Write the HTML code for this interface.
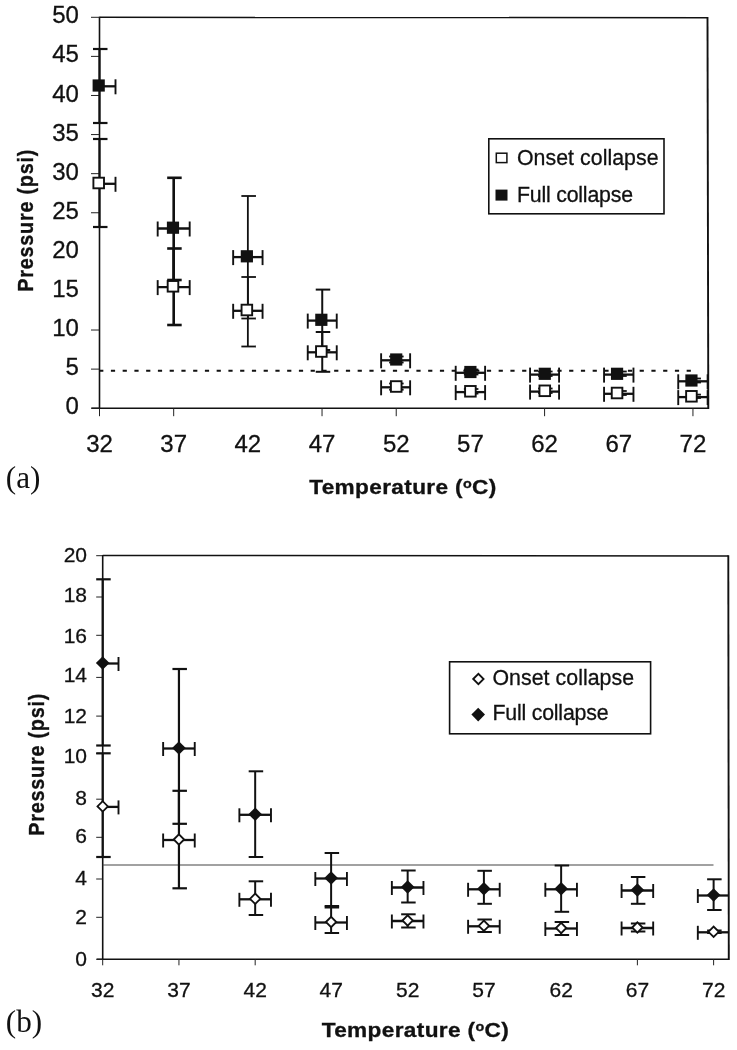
<!DOCTYPE html>
<html lang="en">
<head>
<meta charset="utf-8">
<title>Collapse pressure vs temperature</title>
<style>
html,body{margin:0;padding:0;background:#fff;}
body{width:737px;height:1050px;overflow:hidden;}
svg{display:block;}

</style>
</head>
<body>
<svg width="737" height="1050" viewBox="0 0 737 1050">
<rect x="0" y="0" width="737" height="1050" fill="#ffffff"/>
<line x1="99.50" y1="17.30" x2="707.50" y2="17.70" stroke="#111" stroke-width="1.5" />
<line x1="707.50" y1="17.00" x2="708.30" y2="409.00" stroke="#111" stroke-width="1.9" />
<line x1="99.50" y1="16.70" x2="99.50" y2="408.20" stroke="#111" stroke-width="1.6" />
<line x1="91.50" y1="408.20" x2="708.30" y2="408.20" stroke="#111" stroke-width="1.6" />
<line x1="91.00" y1="17.30" x2="99.50" y2="17.30" stroke="#222" stroke-width="1.0" />
<text transform="translate(78.90,23.40)" font-family='"Liberation Sans", Arial, Helvetica, sans-serif' font-size="24" font-weight="normal" text-anchor="end" fill="#111" stroke="#111" stroke-width="0.3">50</text>
<line x1="91.00" y1="56.39" x2="99.50" y2="56.39" stroke="#222" stroke-width="1.0" />
<text transform="translate(78.90,62.49)" font-family='"Liberation Sans", Arial, Helvetica, sans-serif' font-size="24" font-weight="normal" text-anchor="end" fill="#111" stroke="#111" stroke-width="0.3">45</text>
<line x1="91.00" y1="95.48" x2="99.50" y2="95.48" stroke="#222" stroke-width="1.0" />
<text transform="translate(78.90,101.58)" font-family='"Liberation Sans", Arial, Helvetica, sans-serif' font-size="24" font-weight="normal" text-anchor="end" fill="#111" stroke="#111" stroke-width="0.3">40</text>
<line x1="91.00" y1="134.57" x2="99.50" y2="134.57" stroke="#222" stroke-width="1.0" />
<text transform="translate(78.90,140.67)" font-family='"Liberation Sans", Arial, Helvetica, sans-serif' font-size="24" font-weight="normal" text-anchor="end" fill="#111" stroke="#111" stroke-width="0.3">35</text>
<line x1="91.00" y1="173.66" x2="99.50" y2="173.66" stroke="#222" stroke-width="1.0" />
<text transform="translate(78.90,179.76)" font-family='"Liberation Sans", Arial, Helvetica, sans-serif' font-size="24" font-weight="normal" text-anchor="end" fill="#111" stroke="#111" stroke-width="0.3">30</text>
<line x1="91.00" y1="212.75" x2="99.50" y2="212.75" stroke="#222" stroke-width="1.0" />
<text transform="translate(78.90,218.85)" font-family='"Liberation Sans", Arial, Helvetica, sans-serif' font-size="24" font-weight="normal" text-anchor="end" fill="#111" stroke="#111" stroke-width="0.3">25</text>
<text transform="translate(78.90,257.94)" font-family='"Liberation Sans", Arial, Helvetica, sans-serif' font-size="24" font-weight="normal" text-anchor="end" fill="#111" stroke="#111" stroke-width="0.3">20</text>
<text transform="translate(78.90,297.03)" font-family='"Liberation Sans", Arial, Helvetica, sans-serif' font-size="24" font-weight="normal" text-anchor="end" fill="#111" stroke="#111" stroke-width="0.3">15</text>
<line x1="91.00" y1="330.02" x2="99.50" y2="330.02" stroke="#222" stroke-width="1.0" />
<text transform="translate(78.90,336.12)" font-family='"Liberation Sans", Arial, Helvetica, sans-serif' font-size="24" font-weight="normal" text-anchor="end" fill="#111" stroke="#111" stroke-width="0.3">10</text>
<line x1="91.00" y1="369.11" x2="99.50" y2="369.11" stroke="#222" stroke-width="1.0" />
<text transform="translate(78.90,375.21)" font-family='"Liberation Sans", Arial, Helvetica, sans-serif' font-size="24" font-weight="normal" text-anchor="end" fill="#111" stroke="#111" stroke-width="0.3">5</text>
<line x1="91.00" y1="408.20" x2="99.50" y2="408.20" stroke="#222" stroke-width="1.0" />
<text transform="translate(78.90,414.30)" font-family='"Liberation Sans", Arial, Helvetica, sans-serif' font-size="24" font-weight="normal" text-anchor="end" fill="#111" stroke="#111" stroke-width="0.3">0</text>
<line x1="99.50" y1="408.20" x2="99.50" y2="416.20" stroke="#222" stroke-width="1.0" />
<text transform="translate(99.50,452.00)" font-family='"Liberation Sans", Arial, Helvetica, sans-serif' font-size="24" font-weight="normal" text-anchor="middle" fill="#111" stroke="#111" stroke-width="0.3">32</text>
<line x1="173.68" y1="408.20" x2="173.68" y2="416.20" stroke="#222" stroke-width="1.0" />
<text transform="translate(173.68,452.00)" font-family='"Liberation Sans", Arial, Helvetica, sans-serif' font-size="24" font-weight="normal" text-anchor="middle" fill="#111" stroke="#111" stroke-width="0.3">37</text>
<text transform="translate(247.86,452.00)" font-family='"Liberation Sans", Arial, Helvetica, sans-serif' font-size="24" font-weight="normal" text-anchor="middle" fill="#111" stroke="#111" stroke-width="0.3">42</text>
<line x1="322.04" y1="408.20" x2="322.04" y2="416.20" stroke="#222" stroke-width="1.0" />
<text transform="translate(322.04,452.00)" font-family='"Liberation Sans", Arial, Helvetica, sans-serif' font-size="24" font-weight="normal" text-anchor="middle" fill="#111" stroke="#111" stroke-width="0.3">47</text>
<line x1="396.22" y1="408.20" x2="396.22" y2="416.20" stroke="#222" stroke-width="1.0" />
<text transform="translate(396.22,452.00)" font-family='"Liberation Sans", Arial, Helvetica, sans-serif' font-size="24" font-weight="normal" text-anchor="middle" fill="#111" stroke="#111" stroke-width="0.3">52</text>
<text transform="translate(470.40,452.00)" font-family='"Liberation Sans", Arial, Helvetica, sans-serif' font-size="24" font-weight="normal" text-anchor="middle" fill="#111" stroke="#111" stroke-width="0.3">57</text>
<line x1="544.58" y1="408.20" x2="544.58" y2="416.20" stroke="#222" stroke-width="1.0" />
<text transform="translate(544.58,452.00)" font-family='"Liberation Sans", Arial, Helvetica, sans-serif' font-size="24" font-weight="normal" text-anchor="middle" fill="#111" stroke="#111" stroke-width="0.3">62</text>
<text transform="translate(618.76,452.00)" font-family='"Liberation Sans", Arial, Helvetica, sans-serif' font-size="24" font-weight="normal" text-anchor="middle" fill="#111" stroke="#111" stroke-width="0.3">67</text>
<line x1="692.94" y1="408.20" x2="692.94" y2="416.20" stroke="#222" stroke-width="1.0" />
<text transform="translate(692.94,452.00)" font-family='"Liberation Sans", Arial, Helvetica, sans-serif' font-size="24" font-weight="normal" text-anchor="middle" fill="#111" stroke="#111" stroke-width="0.3">72</text>
<line x1="99.15" y1="370.80" x2="698.00" y2="370.80" stroke="#111" stroke-width="2.0" stroke-dasharray="4.2 7.55"/>
<line x1="99.50" y1="139.00" x2="99.50" y2="227.00" stroke="#111" stroke-width="2.2" />
<line x1="93.00" y1="139.00" x2="107.50" y2="139.00" stroke="#111" stroke-width="2.2" />
<line x1="93.00" y1="227.00" x2="107.50" y2="227.00" stroke="#111" stroke-width="2.2" />
<line x1="99.50" y1="183.80" x2="115.50" y2="183.80" stroke="#111" stroke-width="2.3" />
<line x1="115.50" y1="176.80" x2="115.50" y2="191.80" stroke="#111" stroke-width="1.9" />
<line x1="99.50" y1="49.00" x2="99.50" y2="123.00" stroke="#111" stroke-width="2.2" />
<line x1="93.00" y1="49.00" x2="107.50" y2="49.00" stroke="#111" stroke-width="2.2" />
<line x1="93.00" y1="123.00" x2="107.50" y2="123.00" stroke="#111" stroke-width="2.2" />
<line x1="99.50" y1="86.30" x2="115.50" y2="86.30" stroke="#111" stroke-width="2.3" />
<line x1="115.50" y1="79.30" x2="115.50" y2="94.30" stroke="#111" stroke-width="1.9" />
<line x1="173.68" y1="248.50" x2="173.68" y2="325.00" stroke="#111" stroke-width="2.6" />
<line x1="167.18" y1="248.50" x2="181.68" y2="248.50" stroke="#111" stroke-width="2.6" />
<line x1="167.18" y1="325.00" x2="181.68" y2="325.00" stroke="#111" stroke-width="2.6" />
<line x1="157.68" y1="287.10" x2="189.68" y2="287.10" stroke="#111" stroke-width="2.3" />
<line x1="157.68" y1="280.10" x2="157.68" y2="295.10" stroke="#111" stroke-width="1.9" />
<line x1="189.68" y1="280.10" x2="189.68" y2="295.10" stroke="#111" stroke-width="1.9" />
<line x1="173.68" y1="177.80" x2="173.68" y2="280.00" stroke="#111" stroke-width="2.6" />
<line x1="167.18" y1="177.80" x2="181.68" y2="177.80" stroke="#111" stroke-width="2.6" />
<line x1="167.18" y1="280.00" x2="181.68" y2="280.00" stroke="#111" stroke-width="2.6" />
<line x1="157.68" y1="228.50" x2="189.68" y2="228.50" stroke="#111" stroke-width="2.3" />
<line x1="157.68" y1="221.50" x2="157.68" y2="236.50" stroke="#111" stroke-width="1.9" />
<line x1="189.68" y1="221.50" x2="189.68" y2="236.50" stroke="#111" stroke-width="1.9" />
<line x1="247.86" y1="277.00" x2="247.86" y2="346.50" stroke="#111" stroke-width="1.8" />
<line x1="241.36" y1="277.00" x2="255.86" y2="277.00" stroke="#111" stroke-width="1.8" />
<line x1="241.36" y1="346.50" x2="255.86" y2="346.50" stroke="#111" stroke-width="1.8" />
<line x1="233.16" y1="310.80" x2="262.56" y2="310.80" stroke="#111" stroke-width="2.3" />
<line x1="233.16" y1="303.80" x2="233.16" y2="318.80" stroke="#111" stroke-width="1.9" />
<line x1="262.56" y1="303.80" x2="262.56" y2="318.80" stroke="#111" stroke-width="1.9" />
<line x1="247.86" y1="196.00" x2="247.86" y2="318.50" stroke="#111" stroke-width="1.8" />
<line x1="241.36" y1="196.00" x2="255.86" y2="196.00" stroke="#111" stroke-width="1.8" />
<line x1="241.36" y1="318.50" x2="255.86" y2="318.50" stroke="#111" stroke-width="1.8" />
<line x1="233.16" y1="257.10" x2="262.56" y2="257.10" stroke="#111" stroke-width="2.3" />
<line x1="233.16" y1="250.10" x2="233.16" y2="265.10" stroke="#111" stroke-width="1.9" />
<line x1="262.56" y1="250.10" x2="262.56" y2="265.10" stroke="#111" stroke-width="1.9" />
<line x1="322.24" y1="332.00" x2="322.24" y2="371.80" stroke="#111" stroke-width="2.0" />
<line x1="315.74" y1="332.00" x2="330.24" y2="332.00" stroke="#111" stroke-width="2.0" />
<line x1="315.74" y1="371.80" x2="330.24" y2="371.80" stroke="#111" stroke-width="2.0" />
<line x1="307.74" y1="352.30" x2="336.74" y2="352.30" stroke="#111" stroke-width="2.3" />
<line x1="307.74" y1="345.30" x2="307.74" y2="360.30" stroke="#111" stroke-width="1.9" />
<line x1="336.74" y1="345.30" x2="336.74" y2="360.30" stroke="#111" stroke-width="1.9" />
<line x1="322.24" y1="289.60" x2="322.24" y2="350.00" stroke="#111" stroke-width="2.0" />
<line x1="315.74" y1="289.60" x2="330.24" y2="289.60" stroke="#111" stroke-width="2.0" />
<line x1="315.74" y1="350.00" x2="330.24" y2="350.00" stroke="#111" stroke-width="2.0" />
<line x1="307.74" y1="320.60" x2="336.74" y2="320.60" stroke="#111" stroke-width="2.3" />
<line x1="307.74" y1="313.60" x2="307.74" y2="328.60" stroke="#111" stroke-width="1.9" />
<line x1="336.74" y1="313.60" x2="336.74" y2="328.60" stroke="#111" stroke-width="1.9" />
<line x1="395.62" y1="383.50" x2="395.62" y2="389.70" stroke="#111" stroke-width="1.8" />
<line x1="389.12" y1="383.50" x2="403.62" y2="383.50" stroke="#111" stroke-width="1.8" />
<line x1="389.12" y1="389.70" x2="403.62" y2="389.70" stroke="#111" stroke-width="1.8" />
<line x1="381.12" y1="387.30" x2="410.12" y2="387.30" stroke="#111" stroke-width="2.3" />
<line x1="381.12" y1="380.30" x2="381.12" y2="395.30" stroke="#111" stroke-width="1.9" />
<line x1="410.12" y1="380.30" x2="410.12" y2="395.30" stroke="#111" stroke-width="1.9" />
<line x1="395.62" y1="356.50" x2="395.62" y2="362.50" stroke="#111" stroke-width="1.8" />
<line x1="389.12" y1="356.50" x2="403.62" y2="356.50" stroke="#111" stroke-width="1.8" />
<line x1="389.12" y1="362.50" x2="403.62" y2="362.50" stroke="#111" stroke-width="1.8" />
<line x1="381.12" y1="360.30" x2="410.12" y2="360.30" stroke="#111" stroke-width="2.3" />
<line x1="381.12" y1="353.30" x2="381.12" y2="368.30" stroke="#111" stroke-width="1.9" />
<line x1="410.12" y1="353.30" x2="410.12" y2="368.30" stroke="#111" stroke-width="1.9" />
<line x1="470.40" y1="389.00" x2="470.40" y2="393.60" stroke="#111" stroke-width="1.8" />
<line x1="463.90" y1="389.00" x2="478.40" y2="389.00" stroke="#111" stroke-width="1.8" />
<line x1="463.90" y1="393.60" x2="478.40" y2="393.60" stroke="#111" stroke-width="1.8" />
<line x1="455.70" y1="392.10" x2="485.10" y2="392.10" stroke="#111" stroke-width="2.3" />
<line x1="455.70" y1="385.10" x2="455.70" y2="400.10" stroke="#111" stroke-width="1.9" />
<line x1="485.10" y1="385.10" x2="485.10" y2="400.10" stroke="#111" stroke-width="1.9" />
<line x1="470.40" y1="369.50" x2="470.40" y2="374.50" stroke="#111" stroke-width="1.8" />
<line x1="463.90" y1="369.50" x2="478.40" y2="369.50" stroke="#111" stroke-width="1.8" />
<line x1="463.90" y1="374.50" x2="478.40" y2="374.50" stroke="#111" stroke-width="1.8" />
<line x1="455.70" y1="372.80" x2="485.10" y2="372.80" stroke="#111" stroke-width="2.3" />
<line x1="455.70" y1="365.80" x2="455.70" y2="380.80" stroke="#111" stroke-width="1.9" />
<line x1="485.10" y1="365.80" x2="485.10" y2="380.80" stroke="#111" stroke-width="1.9" />
<line x1="544.58" y1="388.50" x2="544.58" y2="393.00" stroke="#111" stroke-width="1.8" />
<line x1="538.08" y1="388.50" x2="552.58" y2="388.50" stroke="#111" stroke-width="1.8" />
<line x1="538.08" y1="393.00" x2="552.58" y2="393.00" stroke="#111" stroke-width="1.8" />
<line x1="530.08" y1="391.60" x2="559.08" y2="391.60" stroke="#111" stroke-width="2.3" />
<line x1="530.08" y1="384.60" x2="530.08" y2="399.60" stroke="#111" stroke-width="1.9" />
<line x1="559.08" y1="384.60" x2="559.08" y2="399.60" stroke="#111" stroke-width="1.9" />
<line x1="544.58" y1="371.50" x2="544.58" y2="376.00" stroke="#111" stroke-width="1.8" />
<line x1="538.08" y1="371.50" x2="552.58" y2="371.50" stroke="#111" stroke-width="1.8" />
<line x1="538.08" y1="376.00" x2="552.58" y2="376.00" stroke="#111" stroke-width="1.8" />
<line x1="530.08" y1="374.60" x2="559.08" y2="374.60" stroke="#111" stroke-width="2.3" />
<line x1="530.08" y1="367.60" x2="530.08" y2="382.60" stroke="#111" stroke-width="1.9" />
<line x1="559.08" y1="367.60" x2="559.08" y2="382.60" stroke="#111" stroke-width="1.9" />
<line x1="618.76" y1="391.00" x2="618.76" y2="395.00" stroke="#111" stroke-width="1.8" />
<line x1="612.26" y1="391.00" x2="626.76" y2="391.00" stroke="#111" stroke-width="1.8" />
<line x1="612.26" y1="395.00" x2="626.76" y2="395.00" stroke="#111" stroke-width="1.8" />
<line x1="604.06" y1="393.80" x2="633.46" y2="393.80" stroke="#111" stroke-width="2.3" />
<line x1="604.06" y1="386.80" x2="604.06" y2="401.80" stroke="#111" stroke-width="1.9" />
<line x1="633.46" y1="386.80" x2="633.46" y2="401.80" stroke="#111" stroke-width="1.9" />
<line x1="618.76" y1="371.50" x2="618.76" y2="376.00" stroke="#111" stroke-width="1.8" />
<line x1="612.26" y1="371.50" x2="626.76" y2="371.50" stroke="#111" stroke-width="1.8" />
<line x1="612.26" y1="376.00" x2="626.76" y2="376.00" stroke="#111" stroke-width="1.8" />
<line x1="604.06" y1="374.60" x2="633.46" y2="374.60" stroke="#111" stroke-width="2.3" />
<line x1="604.06" y1="367.60" x2="604.06" y2="382.60" stroke="#111" stroke-width="1.9" />
<line x1="633.46" y1="367.60" x2="633.46" y2="382.60" stroke="#111" stroke-width="1.9" />
<line x1="692.94" y1="394.60" x2="692.94" y2="398.00" stroke="#111" stroke-width="1.8" />
<line x1="686.44" y1="394.60" x2="700.94" y2="394.60" stroke="#111" stroke-width="1.8" />
<line x1="686.44" y1="398.00" x2="700.94" y2="398.00" stroke="#111" stroke-width="1.8" />
<line x1="678.24" y1="397.10" x2="707.64" y2="397.10" stroke="#111" stroke-width="2.3" />
<line x1="678.24" y1="390.10" x2="678.24" y2="405.10" stroke="#111" stroke-width="1.9" />
<line x1="707.64" y1="390.10" x2="707.64" y2="405.10" stroke="#111" stroke-width="1.9" />
<line x1="692.94" y1="378.50" x2="692.94" y2="382.50" stroke="#111" stroke-width="1.8" />
<line x1="686.44" y1="378.50" x2="700.94" y2="378.50" stroke="#111" stroke-width="1.8" />
<line x1="686.44" y1="382.50" x2="700.94" y2="382.50" stroke="#111" stroke-width="1.8" />
<line x1="678.24" y1="381.30" x2="707.64" y2="381.30" stroke="#111" stroke-width="2.3" />
<line x1="678.24" y1="374.30" x2="678.24" y2="389.30" stroke="#111" stroke-width="1.9" />
<line x1="707.64" y1="374.30" x2="707.64" y2="389.30" stroke="#111" stroke-width="1.9" />
<rect x="93.40" y="177.70" width="10.6" height="10.6" fill="#fff" stroke="#111" stroke-width="1.9"/>
<rect x="92.60" y="79.40" width="12.2" height="12.2" fill="#111"/>
<rect x="167.68" y="281.00" width="10.6" height="10.6" fill="#fff" stroke="#111" stroke-width="1.9"/>
<rect x="166.88" y="221.60" width="12.2" height="12.2" fill="#111"/>
<rect x="241.56" y="304.70" width="10.6" height="10.6" fill="#fff" stroke="#111" stroke-width="1.9"/>
<rect x="240.76" y="250.20" width="12.2" height="12.2" fill="#111"/>
<rect x="316.04" y="346.20" width="10.6" height="10.6" fill="#fff" stroke="#111" stroke-width="1.9"/>
<rect x="315.24" y="313.70" width="12.2" height="12.2" fill="#111"/>
<rect x="390.92" y="381.20" width="10.6" height="10.6" fill="#fff" stroke="#111" stroke-width="1.9"/>
<rect x="390.12" y="353.40" width="12.2" height="12.2" fill="#111"/>
<rect x="465.10" y="386.00" width="10.6" height="10.6" fill="#fff" stroke="#111" stroke-width="1.9"/>
<rect x="464.30" y="365.90" width="12.2" height="12.2" fill="#111"/>
<rect x="539.48" y="385.50" width="10.6" height="10.6" fill="#fff" stroke="#111" stroke-width="1.9"/>
<rect x="538.68" y="367.70" width="12.2" height="12.2" fill="#111"/>
<rect x="611.76" y="387.70" width="10.6" height="10.6" fill="#fff" stroke="#111" stroke-width="1.9"/>
<rect x="610.96" y="367.70" width="12.2" height="12.2" fill="#111"/>
<rect x="686.14" y="391.00" width="10.6" height="10.6" fill="#fff" stroke="#111" stroke-width="1.9"/>
<rect x="685.34" y="374.40" width="12.2" height="12.2" fill="#111"/>
<rect x="488.8" y="138.8" width="175.2" height="75" fill="#fff" stroke="#111" stroke-width="1.6"/>
<rect x="496.3" y="153.2" width="10.6" height="9.4" fill="#fff" stroke="#111" stroke-width="1.5"/>
<rect x="495.5" y="189.6" width="12" height="11" fill="#111"/>
<text transform="translate(517.00,165.00)" font-family='"Liberation Sans", Arial, Helvetica, sans-serif' font-size="21.3" font-weight="normal" text-anchor="start" fill="#111" stroke="#111" stroke-width="0.3" letter-spacing="0.05">Onset collapse</text>
<text transform="translate(517.00,202.00)" font-family='"Liberation Sans", Arial, Helvetica, sans-serif' font-size="21.3" font-weight="normal" text-anchor="start" fill="#111" stroke="#111" stroke-width="0.3" letter-spacing="-0.2">Full collapse</text>
<text transform="translate(33.20,220.30) rotate(-90) scale(1.0,1.12)" font-family='"Liberation Sans", Arial, Helvetica, sans-serif' font-size="19.8" font-weight="bold" text-anchor="middle" fill="#111" stroke="#111" stroke-width="0.3" letter-spacing="0.78">Pressure (psi)</text>
<text id="xta" transform="translate(402.9,493.7) scale(1.15,1)" font-family='"Liberation Sans", Arial, Helvetica, sans-serif' font-size="19.7" font-weight="bold" text-anchor="middle" fill="#111" stroke="#111" stroke-width="0.3" letter-spacing="0.3">Temperature (<tspan font-size="12.5" dy="-6">o</tspan><tspan dy="6">C)</tspan></text>
<text transform="translate(5.80,488.00)" font-family='"Liberation Serif", "Times New Roman", serif' font-size="31.2" font-weight="normal" text-anchor="start" fill="#111" stroke="#111" stroke-width="0">(a)</text>
<line x1="102.70" y1="555.50" x2="728.30" y2="555.90" stroke="#111" stroke-width="1.5" />
<line x1="728.30" y1="555.20" x2="728.80" y2="960.10" stroke="#111" stroke-width="1.9" />
<line x1="102.70" y1="554.90" x2="102.70" y2="959.30" stroke="#111" stroke-width="1.6" />
<line x1="96.70" y1="959.30" x2="728.80" y2="959.30" stroke="#111" stroke-width="1.6" />
<line x1="96.20" y1="555.70" x2="102.70" y2="555.70" stroke="#222" stroke-width="1.0" />
<text transform="translate(87.00,562.10)" font-family='"Liberation Sans", Arial, Helvetica, sans-serif' font-size="21" font-weight="normal" text-anchor="end" fill="#111" stroke="#111" stroke-width="0.3">20</text>
<line x1="96.20" y1="597.00" x2="102.70" y2="597.00" stroke="#222" stroke-width="1.0" />
<text transform="translate(87.00,602.40)" font-family='"Liberation Sans", Arial, Helvetica, sans-serif' font-size="21" font-weight="normal" text-anchor="end" fill="#111" stroke="#111" stroke-width="0.3">18</text>
<line x1="96.20" y1="635.30" x2="102.70" y2="635.30" stroke="#222" stroke-width="1.0" />
<text transform="translate(87.00,643.10)" font-family='"Liberation Sans", Arial, Helvetica, sans-serif' font-size="21" font-weight="normal" text-anchor="end" fill="#111" stroke="#111" stroke-width="0.3">16</text>
<line x1="96.20" y1="677.40" x2="102.70" y2="677.40" stroke="#222" stroke-width="1.0" />
<text transform="translate(87.00,682.20)" font-family='"Liberation Sans", Arial, Helvetica, sans-serif' font-size="21" font-weight="normal" text-anchor="end" fill="#111" stroke="#111" stroke-width="0.3">14</text>
<line x1="96.20" y1="716.10" x2="102.70" y2="716.10" stroke="#222" stroke-width="1.0" />
<text transform="translate(87.00,722.50)" font-family='"Liberation Sans", Arial, Helvetica, sans-serif' font-size="21" font-weight="normal" text-anchor="end" fill="#111" stroke="#111" stroke-width="0.3">12</text>
<line x1="96.20" y1="753.60" x2="102.70" y2="753.60" stroke="#222" stroke-width="1.0" />
<text transform="translate(87.00,762.90)" font-family='"Liberation Sans", Arial, Helvetica, sans-serif' font-size="21" font-weight="normal" text-anchor="end" fill="#111" stroke="#111" stroke-width="0.3">10</text>
<line x1="96.20" y1="799.20" x2="102.70" y2="799.20" stroke="#222" stroke-width="1.0" />
<text transform="translate(87.00,804.60)" font-family='"Liberation Sans", Arial, Helvetica, sans-serif' font-size="21" font-weight="normal" text-anchor="end" fill="#111" stroke="#111" stroke-width="0.3">8</text>
<line x1="96.20" y1="837.30" x2="102.70" y2="837.30" stroke="#222" stroke-width="1.0" />
<text transform="translate(87.00,843.30)" font-family='"Liberation Sans", Arial, Helvetica, sans-serif' font-size="21" font-weight="normal" text-anchor="end" fill="#111" stroke="#111" stroke-width="0.3">6</text>
<line x1="96.20" y1="879.00" x2="102.70" y2="879.00" stroke="#222" stroke-width="1.0" />
<text transform="translate(87.00,885.00)" font-family='"Liberation Sans", Arial, Helvetica, sans-serif' font-size="21" font-weight="normal" text-anchor="end" fill="#111" stroke="#111" stroke-width="0.3">4</text>
<line x1="96.20" y1="917.30" x2="102.70" y2="917.30" stroke="#222" stroke-width="1.0" />
<text transform="translate(87.00,924.40)" font-family='"Liberation Sans", Arial, Helvetica, sans-serif' font-size="21" font-weight="normal" text-anchor="end" fill="#111" stroke="#111" stroke-width="0.3">2</text>
<line x1="96.20" y1="959.30" x2="102.70" y2="959.30" stroke="#222" stroke-width="1.0" />
<text transform="translate(87.00,965.60)" font-family='"Liberation Sans", Arial, Helvetica, sans-serif' font-size="21" font-weight="normal" text-anchor="end" fill="#111" stroke="#111" stroke-width="0.3">0</text>
<line x1="102.70" y1="959.30" x2="102.70" y2="965.30" stroke="#222" stroke-width="1.0" />
<text transform="translate(102.70,996.60)" font-family='"Liberation Sans", Arial, Helvetica, sans-serif' font-size="21" font-weight="normal" text-anchor="middle" fill="#111" stroke="#111" stroke-width="0.3">32</text>
<line x1="178.94" y1="959.30" x2="178.94" y2="965.30" stroke="#222" stroke-width="1.0" />
<text transform="translate(178.94,996.60)" font-family='"Liberation Sans", Arial, Helvetica, sans-serif' font-size="21" font-weight="normal" text-anchor="middle" fill="#111" stroke="#111" stroke-width="0.3">37</text>
<line x1="255.18" y1="959.30" x2="255.18" y2="965.30" stroke="#222" stroke-width="1.0" />
<text transform="translate(255.18,996.60)" font-family='"Liberation Sans", Arial, Helvetica, sans-serif' font-size="21" font-weight="normal" text-anchor="middle" fill="#111" stroke="#111" stroke-width="0.3">42</text>
<text transform="translate(331.12,996.60)" font-family='"Liberation Sans", Arial, Helvetica, sans-serif' font-size="21" font-weight="normal" text-anchor="middle" fill="#111" stroke="#111" stroke-width="0.3">47</text>
<text transform="translate(407.66,996.60)" font-family='"Liberation Sans", Arial, Helvetica, sans-serif' font-size="21" font-weight="normal" text-anchor="middle" fill="#111" stroke="#111" stroke-width="0.3">52</text>
<text transform="translate(483.90,996.60)" font-family='"Liberation Sans", Arial, Helvetica, sans-serif' font-size="21" font-weight="normal" text-anchor="middle" fill="#111" stroke="#111" stroke-width="0.3">57</text>
<text transform="translate(561.14,996.60)" font-family='"Liberation Sans", Arial, Helvetica, sans-serif' font-size="21" font-weight="normal" text-anchor="middle" fill="#111" stroke="#111" stroke-width="0.3">62</text>
<line x1="637.38" y1="959.30" x2="637.38" y2="965.30" stroke="#222" stroke-width="1.0" />
<text transform="translate(637.38,996.60)" font-family='"Liberation Sans", Arial, Helvetica, sans-serif' font-size="21" font-weight="normal" text-anchor="middle" fill="#111" stroke="#111" stroke-width="0.3">67</text>
<line x1="713.62" y1="959.30" x2="713.62" y2="965.30" stroke="#222" stroke-width="1.0" />
<text transform="translate(713.62,996.60)" font-family='"Liberation Sans", Arial, Helvetica, sans-serif' font-size="21" font-weight="normal" text-anchor="middle" fill="#111" stroke="#111" stroke-width="0.3">72</text>
<line x1="102.70" y1="865.00" x2="713.50" y2="865.00" stroke="#444" stroke-width="1.2" />
<line x1="102.70" y1="753.30" x2="102.70" y2="857.00" stroke="#111" stroke-width="2.2" />
<line x1="96.20" y1="753.30" x2="110.70" y2="753.30" stroke="#111" stroke-width="2.2" />
<line x1="96.20" y1="857.00" x2="110.70" y2="857.00" stroke="#111" stroke-width="2.2" />
<line x1="102.70" y1="806.90" x2="118.50" y2="806.90" stroke="#111" stroke-width="2.3" />
<line x1="118.50" y1="800.40" x2="118.50" y2="814.40" stroke="#111" stroke-width="1.9" />
<line x1="102.70" y1="579.30" x2="102.70" y2="745.50" stroke="#111" stroke-width="2.2" />
<line x1="96.20" y1="579.30" x2="110.70" y2="579.30" stroke="#111" stroke-width="2.2" />
<line x1="96.20" y1="745.50" x2="110.70" y2="745.50" stroke="#111" stroke-width="2.2" />
<line x1="102.70" y1="663.50" x2="118.50" y2="663.50" stroke="#111" stroke-width="2.3" />
<line x1="118.50" y1="657.00" x2="118.50" y2="671.00" stroke="#111" stroke-width="1.9" />
<line x1="178.94" y1="790.80" x2="178.94" y2="888.30" stroke="#111" stroke-width="2.2" />
<line x1="172.44" y1="790.80" x2="186.94" y2="790.80" stroke="#111" stroke-width="2.2" />
<line x1="172.44" y1="888.30" x2="186.94" y2="888.30" stroke="#111" stroke-width="2.2" />
<line x1="163.14" y1="840.00" x2="194.74" y2="840.00" stroke="#111" stroke-width="2.3" />
<line x1="163.14" y1="833.50" x2="163.14" y2="847.50" stroke="#111" stroke-width="1.9" />
<line x1="194.74" y1="833.50" x2="194.74" y2="847.50" stroke="#111" stroke-width="1.9" />
<line x1="178.94" y1="669.00" x2="178.94" y2="823.80" stroke="#111" stroke-width="2.2" />
<line x1="172.44" y1="669.00" x2="186.94" y2="669.00" stroke="#111" stroke-width="2.2" />
<line x1="172.44" y1="823.80" x2="186.94" y2="823.80" stroke="#111" stroke-width="2.2" />
<line x1="163.14" y1="748.50" x2="194.74" y2="748.50" stroke="#111" stroke-width="2.3" />
<line x1="163.14" y1="742.00" x2="163.14" y2="756.00" stroke="#111" stroke-width="1.9" />
<line x1="194.74" y1="742.00" x2="194.74" y2="756.00" stroke="#111" stroke-width="1.9" />
<line x1="255.18" y1="881.30" x2="255.18" y2="915.00" stroke="#111" stroke-width="2.0" />
<line x1="248.68" y1="881.30" x2="263.18" y2="881.30" stroke="#111" stroke-width="2.0" />
<line x1="248.68" y1="915.00" x2="263.18" y2="915.00" stroke="#111" stroke-width="2.0" />
<line x1="239.38" y1="899.30" x2="270.98" y2="899.30" stroke="#111" stroke-width="2.3" />
<line x1="239.38" y1="892.80" x2="239.38" y2="906.80" stroke="#111" stroke-width="1.9" />
<line x1="270.98" y1="892.80" x2="270.98" y2="906.80" stroke="#111" stroke-width="1.9" />
<line x1="255.18" y1="771.30" x2="255.18" y2="857.00" stroke="#111" stroke-width="2.0" />
<line x1="248.68" y1="771.30" x2="263.18" y2="771.30" stroke="#111" stroke-width="2.0" />
<line x1="248.68" y1="857.00" x2="263.18" y2="857.00" stroke="#111" stroke-width="2.0" />
<line x1="239.38" y1="814.80" x2="270.98" y2="814.80" stroke="#111" stroke-width="2.3" />
<line x1="239.38" y1="808.30" x2="239.38" y2="822.30" stroke="#111" stroke-width="1.9" />
<line x1="270.98" y1="808.30" x2="270.98" y2="822.30" stroke="#111" stroke-width="1.9" />
<line x1="331.12" y1="907.50" x2="331.12" y2="933.00" stroke="#111" stroke-width="2.0" />
<line x1="324.62" y1="907.50" x2="339.12" y2="907.50" stroke="#111" stroke-width="2.0" />
<line x1="324.62" y1="933.00" x2="339.12" y2="933.00" stroke="#111" stroke-width="2.0" />
<line x1="315.32" y1="922.50" x2="346.92" y2="922.50" stroke="#111" stroke-width="2.3" />
<line x1="315.32" y1="916.00" x2="315.32" y2="930.00" stroke="#111" stroke-width="1.9" />
<line x1="346.92" y1="916.00" x2="346.92" y2="930.00" stroke="#111" stroke-width="1.9" />
<line x1="331.12" y1="853.00" x2="331.12" y2="906.00" stroke="#111" stroke-width="2.0" />
<line x1="324.62" y1="853.00" x2="339.12" y2="853.00" stroke="#111" stroke-width="2.0" />
<line x1="324.62" y1="906.00" x2="339.12" y2="906.00" stroke="#111" stroke-width="2.0" />
<line x1="315.32" y1="878.50" x2="346.92" y2="878.50" stroke="#111" stroke-width="2.3" />
<line x1="315.32" y1="872.00" x2="315.32" y2="886.00" stroke="#111" stroke-width="1.9" />
<line x1="346.92" y1="872.00" x2="346.92" y2="886.00" stroke="#111" stroke-width="1.9" />
<line x1="407.66" y1="914.30" x2="407.66" y2="927.50" stroke="#111" stroke-width="2.0" />
<line x1="401.16" y1="914.30" x2="415.66" y2="914.30" stroke="#111" stroke-width="2.0" />
<line x1="401.16" y1="927.50" x2="415.66" y2="927.50" stroke="#111" stroke-width="2.0" />
<line x1="391.86" y1="921.00" x2="423.46" y2="921.00" stroke="#111" stroke-width="2.3" />
<line x1="391.86" y1="914.50" x2="391.86" y2="928.50" stroke="#111" stroke-width="1.9" />
<line x1="423.46" y1="914.50" x2="423.46" y2="928.50" stroke="#111" stroke-width="1.9" />
<line x1="407.66" y1="870.50" x2="407.66" y2="902.50" stroke="#111" stroke-width="2.0" />
<line x1="401.16" y1="870.50" x2="415.66" y2="870.50" stroke="#111" stroke-width="2.0" />
<line x1="401.16" y1="902.50" x2="415.66" y2="902.50" stroke="#111" stroke-width="2.0" />
<line x1="391.86" y1="887.50" x2="423.46" y2="887.50" stroke="#111" stroke-width="2.3" />
<line x1="391.86" y1="881.00" x2="391.86" y2="895.00" stroke="#111" stroke-width="1.9" />
<line x1="423.46" y1="881.00" x2="423.46" y2="895.00" stroke="#111" stroke-width="1.9" />
<line x1="483.90" y1="919.50" x2="483.90" y2="932.00" stroke="#111" stroke-width="2.0" />
<line x1="477.40" y1="919.50" x2="491.90" y2="919.50" stroke="#111" stroke-width="2.0" />
<line x1="477.40" y1="932.00" x2="491.90" y2="932.00" stroke="#111" stroke-width="2.0" />
<line x1="468.10" y1="926.30" x2="499.70" y2="926.30" stroke="#111" stroke-width="2.3" />
<line x1="468.10" y1="919.80" x2="468.10" y2="933.80" stroke="#111" stroke-width="1.9" />
<line x1="499.70" y1="919.80" x2="499.70" y2="933.80" stroke="#111" stroke-width="1.9" />
<line x1="483.90" y1="870.80" x2="483.90" y2="903.80" stroke="#111" stroke-width="2.0" />
<line x1="477.40" y1="870.80" x2="491.90" y2="870.80" stroke="#111" stroke-width="2.0" />
<line x1="477.40" y1="903.80" x2="491.90" y2="903.80" stroke="#111" stroke-width="2.0" />
<line x1="468.10" y1="889.30" x2="499.70" y2="889.30" stroke="#111" stroke-width="2.3" />
<line x1="468.10" y1="882.80" x2="468.10" y2="896.80" stroke="#111" stroke-width="1.9" />
<line x1="499.70" y1="882.80" x2="499.70" y2="896.80" stroke="#111" stroke-width="1.9" />
<line x1="561.14" y1="922.00" x2="561.14" y2="935.00" stroke="#111" stroke-width="2.0" />
<line x1="554.64" y1="922.00" x2="569.14" y2="922.00" stroke="#111" stroke-width="2.0" />
<line x1="554.64" y1="935.00" x2="569.14" y2="935.00" stroke="#111" stroke-width="2.0" />
<line x1="545.34" y1="928.50" x2="576.94" y2="928.50" stroke="#111" stroke-width="2.3" />
<line x1="545.34" y1="922.00" x2="545.34" y2="936.00" stroke="#111" stroke-width="1.9" />
<line x1="576.94" y1="922.00" x2="576.94" y2="936.00" stroke="#111" stroke-width="1.9" />
<line x1="561.14" y1="865.50" x2="561.14" y2="911.80" stroke="#111" stroke-width="2.0" />
<line x1="554.64" y1="865.50" x2="569.14" y2="865.50" stroke="#111" stroke-width="2.0" />
<line x1="554.64" y1="911.80" x2="569.14" y2="911.80" stroke="#111" stroke-width="2.0" />
<line x1="545.34" y1="889.30" x2="576.94" y2="889.30" stroke="#111" stroke-width="2.3" />
<line x1="545.34" y1="882.80" x2="545.34" y2="896.80" stroke="#111" stroke-width="1.9" />
<line x1="576.94" y1="882.80" x2="576.94" y2="896.80" stroke="#111" stroke-width="1.9" />
<line x1="637.38" y1="923.50" x2="637.38" y2="931.50" stroke="#111" stroke-width="2.0" />
<line x1="630.88" y1="923.50" x2="645.38" y2="923.50" stroke="#111" stroke-width="2.0" />
<line x1="630.88" y1="931.50" x2="645.38" y2="931.50" stroke="#111" stroke-width="2.0" />
<line x1="621.58" y1="928.00" x2="653.18" y2="928.00" stroke="#111" stroke-width="2.3" />
<line x1="621.58" y1="921.50" x2="621.58" y2="935.50" stroke="#111" stroke-width="1.9" />
<line x1="653.18" y1="921.50" x2="653.18" y2="935.50" stroke="#111" stroke-width="1.9" />
<line x1="637.38" y1="877.00" x2="637.38" y2="903.80" stroke="#111" stroke-width="2.0" />
<line x1="630.88" y1="877.00" x2="645.38" y2="877.00" stroke="#111" stroke-width="2.0" />
<line x1="630.88" y1="903.80" x2="645.38" y2="903.80" stroke="#111" stroke-width="2.0" />
<line x1="621.58" y1="890.50" x2="653.18" y2="890.50" stroke="#111" stroke-width="2.3" />
<line x1="621.58" y1="884.00" x2="621.58" y2="898.00" stroke="#111" stroke-width="1.9" />
<line x1="653.18" y1="884.00" x2="653.18" y2="898.00" stroke="#111" stroke-width="1.9" />
<line x1="713.62" y1="930.50" x2="713.62" y2="933.00" stroke="#111" stroke-width="2.0" />
<line x1="707.12" y1="930.50" x2="721.62" y2="930.50" stroke="#111" stroke-width="2.0" />
<line x1="707.12" y1="933.00" x2="721.62" y2="933.00" stroke="#111" stroke-width="2.0" />
<line x1="697.82" y1="932.30" x2="728.80" y2="932.30" stroke="#111" stroke-width="2.3" />
<line x1="697.82" y1="925.80" x2="697.82" y2="939.80" stroke="#111" stroke-width="1.9" />
<line x1="713.62" y1="879.30" x2="713.62" y2="910.00" stroke="#111" stroke-width="2.0" />
<line x1="707.12" y1="879.30" x2="721.62" y2="879.30" stroke="#111" stroke-width="2.0" />
<line x1="707.12" y1="910.00" x2="721.62" y2="910.00" stroke="#111" stroke-width="2.0" />
<line x1="697.82" y1="895.50" x2="728.80" y2="895.50" stroke="#111" stroke-width="2.3" />
<line x1="697.82" y1="889.00" x2="697.82" y2="903.00" stroke="#111" stroke-width="1.9" />
<polygon points="97.50,806.40 102.70,801.20 107.90,806.40 102.70,811.60" fill="#fff" stroke="#111" stroke-width="1.8"/>
<polygon points="95.90,663.00 102.70,656.20 109.50,663.00 102.70,669.80" fill="#111"/>
<polygon points="173.74,839.50 178.94,834.30 184.14,839.50 178.94,844.70" fill="#fff" stroke="#111" stroke-width="1.8"/>
<polygon points="172.14,748.00 178.94,741.20 185.74,748.00 178.94,754.80" fill="#111"/>
<polygon points="249.98,898.80 255.18,893.60 260.38,898.80 255.18,904.00" fill="#fff" stroke="#111" stroke-width="1.8"/>
<polygon points="248.38,814.30 255.18,807.50 261.98,814.30 255.18,821.10" fill="#111"/>
<polygon points="325.92,922.00 331.12,916.80 336.32,922.00 331.12,927.20" fill="#fff" stroke="#111" stroke-width="1.8"/>
<polygon points="324.32,878.00 331.12,871.20 337.92,878.00 331.12,884.80" fill="#111"/>
<polygon points="402.46,920.50 407.66,915.30 412.86,920.50 407.66,925.70" fill="#fff" stroke="#111" stroke-width="1.8"/>
<polygon points="400.86,887.00 407.66,880.20 414.46,887.00 407.66,893.80" fill="#111"/>
<polygon points="478.70,925.80 483.90,920.60 489.10,925.80 483.90,931.00" fill="#fff" stroke="#111" stroke-width="1.8"/>
<polygon points="477.10,888.80 483.90,882.00 490.70,888.80 483.90,895.60" fill="#111"/>
<polygon points="555.94,928.00 561.14,922.80 566.34,928.00 561.14,933.20" fill="#fff" stroke="#111" stroke-width="1.8"/>
<polygon points="554.34,888.80 561.14,882.00 567.94,888.80 561.14,895.60" fill="#111"/>
<polygon points="632.18,927.50 637.38,922.30 642.58,927.50 637.38,932.70" fill="#fff" stroke="#111" stroke-width="1.8"/>
<polygon points="630.58,890.00 637.38,883.20 644.18,890.00 637.38,896.80" fill="#111"/>
<polygon points="708.42,931.80 713.62,926.60 718.82,931.80 713.62,937.00" fill="#fff" stroke="#111" stroke-width="1.8"/>
<polygon points="706.82,895.00 713.62,888.20 720.42,895.00 713.62,901.80" fill="#111"/>
<rect x="449.6" y="661.8" width="201" height="72" fill="#fff" stroke="#111" stroke-width="1.6"/>
<polygon points="473.20,679.00 478.40,673.80 483.60,679.00 478.40,684.20" fill="#fff" stroke="#111" stroke-width="1.8"/>
<polygon points="471.40,714.60 478.20,707.80 485.00,714.60 478.20,721.40" fill="#111"/>
<text transform="translate(492.50,685.00)" font-family='"Liberation Sans", Arial, Helvetica, sans-serif' font-size="21.3" font-weight="normal" text-anchor="start" fill="#111" stroke="#111" stroke-width="0.3" letter-spacing="0.05">Onset collapse</text>
<text transform="translate(492.50,720.00)" font-family='"Liberation Sans", Arial, Helvetica, sans-serif' font-size="21.3" font-weight="normal" text-anchor="start" fill="#111" stroke="#111" stroke-width="0.3" letter-spacing="-0.2">Full collapse</text>
<text transform="translate(44.20,764.30) rotate(-90) scale(1.0,1.12)" font-family='"Liberation Sans", Arial, Helvetica, sans-serif' font-size="19.8" font-weight="bold" text-anchor="middle" fill="#111" stroke="#111" stroke-width="0.3" letter-spacing="0.78">Pressure (psi)</text>
<text id="xtb" transform="translate(415.4,1036.6) scale(1.15,1)" font-family='"Liberation Sans", Arial, Helvetica, sans-serif' font-size="19.7" font-weight="bold" text-anchor="middle" fill="#111" stroke="#111" stroke-width="0.3" letter-spacing="0.3">Temperature (<tspan font-size="12.5" dy="-6">o</tspan><tspan dy="6">C)</tspan></text>
<text transform="translate(5.80,1031.60)" font-family='"Liberation Serif", "Times New Roman", serif' font-size="31.2" font-weight="normal" text-anchor="start" fill="#111" stroke="#111" stroke-width="0">(b)</text>
</svg>
</body>
</html>
